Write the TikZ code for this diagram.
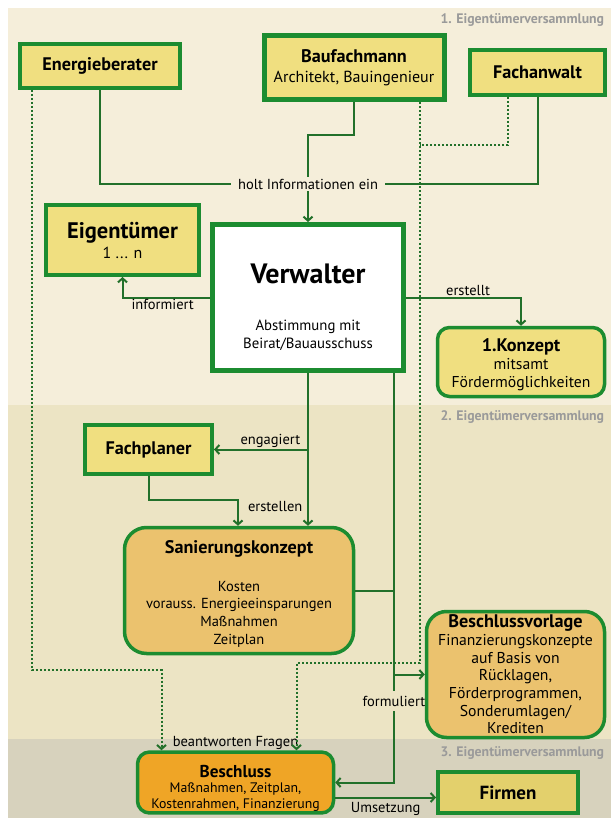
\documentclass[tikz,border=0pt]{standalone}
\usepackage{fontspec}
\setmainfont{PT Sans}
\usepackage{tikz}
\usetikzlibrary{positioning, arrows.meta, calc}

\definecolor{boxgreen}{HTML}{1C8C30}
\definecolor{linegreen}{HTML}{22702A}
\definecolor{yellowfill}{HTML}{F0DF80}
\definecolor{firmfill}{HTML}{E3D06C}
\definecolor{tanfill}{HTML}{EBC26E}
\definecolor{orangefill}{HTML}{EFA526}
\definecolor{phaseone}{HTML}{F5EEDA}
\definecolor{phasetwo}{HTML}{ECE4C4}
\definecolor{phasethree}{HTML}{D7D2BD}
\definecolor{phasetext}{HTML}{9A9A9A}

\newcommand{\boxhead}[1]{{\fontsize{18.2}{21}\selectfont\bfseries #1}}

\begin{document}
\begin{tikzpicture}[
  x=1pt, y=-1pt,
  font=\fontsize{14.5}{17.6}\selectfont,
  party/.style={rectangle, draw=boxgreen, line width=4pt, fill=yellowfill, align=center, inner sep=2pt},
  paper/.style={rectangle, rounded corners=14pt, draw=boxgreen, line width=3.5pt, fill=tanfill, align=center, inner sep=2pt},
  lbl/.style={inner sep=2pt, line width=0pt, font=\fontsize{14.5}{17.6}\selectfont},
  flow/.style={draw=linegreen, line width=2pt},
  msg/.style={flow, -{Straight Barb[length=4pt, width=9pt]}},
  hint/.style={draw=linegreen, line width=2pt, dash pattern=on 2pt off 2pt},
  hintmsg/.style={hint, -{Straight Barb[length=4pt, width=9pt]}},
  phase/.style={anchor=west, text=phasetext, font=\fontsize{13.8}{16}\selectfont\bfseries},
]
\useasboundingbox (0,0) rectangle (611,818);

% phases
\fill[phaseone] (8,8) rectangle (611,405);
\fill[phasetwo] (8,405) rectangle (611,739);
\fill[phasethree] (8,739) rectangle (611,818);
\foreach \n/\y in {1/20, 2/417, 3/753}
  \node[phase] (phase\n) at (437,\y) {\n. Eigentümerversammlung};

% experts
\node[party, minimum width=160pt, minimum height=44pt] (energie) at (100,66) {\boxhead{Energieberater}};
\node[party, line width=5pt, minimum width=180pt, minimum height=64pt, font=\fontsize{16}{20}\selectfont] (bau) at (354,68)
  {\boxhead{Baufachmann}\\Architekt, Bauingenieur};
\node[party, minimum width=135pt, minimum height=45pt] (anwalt) at (537.5,72.5) {\boxhead{Fachanwalt}};
\node[lbl, inner xsep=7pt] (holt) at (308,184) {holt Informationen ein};

% administration
\node[party, minimum width=153pt, minimum height=70pt, font=\fontsize{16}{20}\selectfont] (eigen) at (122.5,240)
  {{\fontsize{22.5}{26}\selectfont\bfseries Eigentümer}\\1 ... n};
\node[party, fill=white, line width=5pt, minimum width=191pt, minimum height=146pt,
  text height=19pt, text depth=47pt,
  label={[lbl, align=center, yshift=-38pt, font=\fontsize{14.8}{18}\selectfont]center:Abstimmung mit\\Beirat/Bauausschuss}]
  (verw) at (308,297.5) {\fontsize{28}{32}\selectfont\bfseries Verwalter};
\node[paper, fill=yellowfill, rounded corners=12pt, minimum width=167pt, minimum height=69pt, font=\fontsize{15.7}{18}\selectfont,
  text height=55pt] (konzept1) at (521,362)
  {\boxhead{1.Konzept}\\mitsamt\\Fördermöglichkeiten};

% planning
\node[party, minimum width=127pt, minimum height=49pt] (fachpl) at (148.5,449.5) {\boxhead{Fachplaner}};
\node[paper, rounded corners=22pt, minimum width=229pt, minimum height=126pt, text height=110pt] (sanier) at (239,590.5)
  {\boxhead{Sanierungskonzept}\\[20pt]Kosten\\vorauss. Energieeinsparungen\\Maßnahmen\\Zeitplan};
\node[paper, rounded corners=20pt, minimum width=178pt, minimum height=126pt, font=\fontsize{15.7}{17.7}\selectfont] (vorlage) at (515.5,674.5)
  {\boxhead{Beschlussvorlage}\\Finanzierungskonzepte\\auf Basis von\\Rücklagen,\\Förderprogrammen,\\Sonderumlagen/\\Krediten};
\node[lbl, inner ysep=5pt] (formul) at (394,701) {formuliert};

% decision
\node[paper, fill=orangefill, rounded corners=12pt, minimum width=196pt, minimum height=58pt, font=\fontsize{13.8}{15.5}\selectfont,
  text height=54pt] (beschl) at (235.5,782.5)
  {{\fontsize{17.2}{20}\selectfont\bfseries Beschluss}\\Maßnahmen, Zeitplan,\\Kostenrahmen, Finanzierung};
\node[party, fill=firmfill, minimum width=140pt, minimum height=41pt] (firmen) at (508,792.5) {{\fontsize{19}{22}\selectfont\bfseries Firmen}};
\node[lbl, above=-1pt of beschl.north] (fragen) {beantworten Fragen};

% information
\draw[flow] (energie.south) |- (holt.west);
\draw[flow] (anwalt.south) |- (holt.east);
\draw[flow] (bau.south) -- ++(0,33) -| (holt.north);
\draw[msg] (holt.south) -- (verw.north);
\draw[msg] (verw.west) -| node[lbl, pos=0.27, below] (informiert) {informiert} (eigen.south);
\draw[msg] (verw.east) -| node[lbl, pos=0.27, above] (erstellt) {erstellt} (konzept1.north);

% planning flow
\coordinate (hire) at (verw.south |- fachpl.east);
\draw[msg] (verw.south) -- (verw.south |- sanier.north);
\draw[msg] (hire) -- node[lbl, pos=0.4, above] (engagiert) {engagiert} (fachpl.east);
\draw[msg] (fachpl.south) -- ++(0,24) -| node[lbl, pos=0.62, right=8pt] (erstellen) {erstellen} ([xshift=-1pt]sanier.north);

\coordinate (vright) at ([xshift=86pt]verw.south);
\draw[flow] (vright) -- (formul.north);
\draw[flow] (sanier.east) -- (sanier.east -| formul);
\draw[msg] (vright |- vorlage.west) -- (vorlage.west);
\draw[msg] (formul.south) |- (beschl.east);
\draw[msg] ([yshift=-15pt]beschl.east) -- node[lbl, below=3pt] (umsetzung) {Umsetzung} ([yshift=-15pt]beschl.east -| firmen.west);

% questions
\coordinate (askL) at ([xshift=-74pt]beschl.north);
\coordinate (askR) at ([xshift=61pt]beschl.north);
\draw[hintmsg] ([xshift=14pt]energie.south west) -- ++(0,580) -| (askL);
\draw[hintmsg] ([xshift=-27pt]bau.south east) -- ++(0,560) -| (askR);
\draw[hint] ([xshift=-30pt]anwalt.south) |- ([xshift=-27pt, yshift=-43pt]bau.south east);
\end{tikzpicture}
\end{document}
